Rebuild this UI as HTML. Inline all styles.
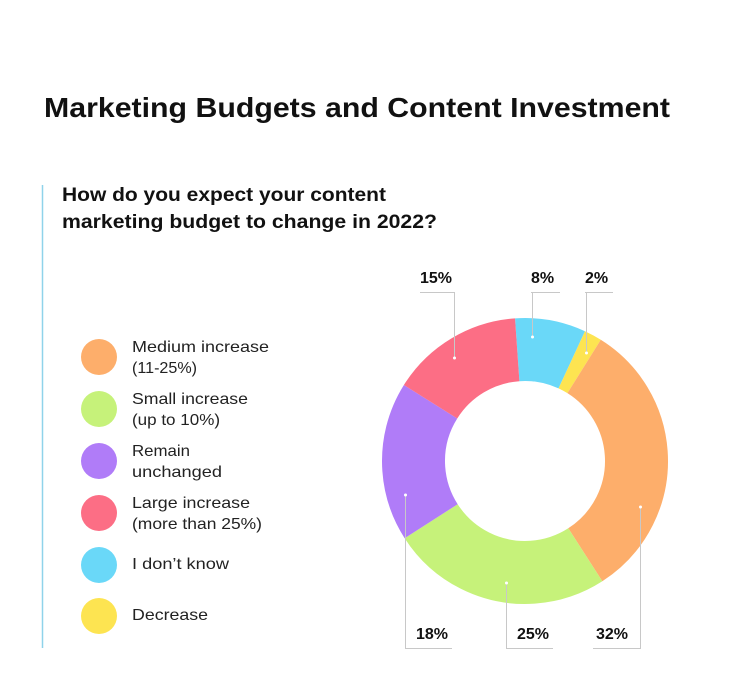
<!DOCTYPE html>
<html><head><meta charset="utf-8"><style>
body{margin:0;background:#fff;width:752px;height:691px;overflow:hidden;font-family:"Liberation Sans",sans-serif;}
</style></head><body>
<svg width="752" height="691" xmlns="http://www.w3.org/2000/svg" style="position:absolute;left:0;top:0">
<text x="44" y="117" font-size="28" font-weight="bold" fill="#111" textLength="626" lengthAdjust="spacingAndGlyphs">Marketing Budgets and Content Investment</text>
<line x1="42.5" y1="185" x2="42.5" y2="648" stroke="#8fd3ea" stroke-width="1.5"/>
<text x="62" y="201" font-size="19" font-weight="bold" fill="#111" textLength="324" lengthAdjust="spacingAndGlyphs">How do you expect your content</text>
<text x="62" y="228" font-size="19" font-weight="bold" fill="#111" textLength="375" lengthAdjust="spacingAndGlyphs">marketing budget to change in 2022?</text>
<g font-size="16" fill="#222">
<circle cx="99" cy="357" r="18" fill="#fdae6b"/>
<text x="132" y="352" textLength="137" lengthAdjust="spacingAndGlyphs">Medium increase</text><text x="132" y="373" textLength="65" lengthAdjust="spacingAndGlyphs">(11-25%)</text>
<circle cx="99" cy="409" r="18" fill="#c6f27a"/>
<text x="132" y="404" textLength="116" lengthAdjust="spacingAndGlyphs">Small increase</text><text x="132" y="425" textLength="88" lengthAdjust="spacingAndGlyphs">(up to 10%)</text>
<circle cx="99" cy="461" r="18" fill="#b07cf8"/>
<text x="132" y="456" textLength="58" lengthAdjust="spacingAndGlyphs">Remain</text><text x="132" y="477" textLength="90" lengthAdjust="spacingAndGlyphs">unchanged</text>
<circle cx="99" cy="513" r="18" fill="#fc6e85"/>
<text x="132" y="508" textLength="118" lengthAdjust="spacingAndGlyphs">Large increase</text><text x="132" y="529" textLength="130" lengthAdjust="spacingAndGlyphs">(more than 25%)</text>
<circle cx="99" cy="565" r="18" fill="#6ad8f8"/>
<text x="132" y="569" textLength="97" lengthAdjust="spacingAndGlyphs">I don’t know</text>
<circle cx="99" cy="616" r="18" fill="#fde451"/>
<text x="132" y="620" textLength="76" lengthAdjust="spacingAndGlyphs">Decrease</text>
</g>
<g transform="rotate(-94 525 461)" fill="none" stroke-width="63">
<circle cx="525" cy="461" r="111.5" stroke="#6ad8f8" stroke-dasharray="56.05 700.58" stroke-dashoffset="0"/>
<circle cx="525" cy="461" r="111.5" stroke="#fde451" stroke-dasharray="14.01 700.58" stroke-dashoffset="-56.05"/>
<circle cx="525" cy="461" r="111.5" stroke="#fdae6b" stroke-dasharray="224.19 700.58" stroke-dashoffset="-70.06"/>
<circle cx="525" cy="461" r="111.5" stroke="#c6f27a" stroke-dasharray="175.15 700.58" stroke-dashoffset="-294.25"/>
<circle cx="525" cy="461" r="111.5" stroke="#b07cf8" stroke-dasharray="126.10 700.58" stroke-dashoffset="-469.40"/>
<circle cx="525" cy="461" r="111.5" stroke="#fc6e85" stroke-dasharray="105.09 700.58" stroke-dashoffset="-595.50"/>
</g>
<g stroke="#c8c8c8" stroke-width="1" fill="none">
<polyline points="420,292.5 454.5,292.5 454.5,358"/>
<polyline points="531,292.5 560,292.5"/><line x1="532.5" y1="292" x2="532.5" y2="337"/>
<polyline points="585,292.5 613,292.5"/><line x1="586.5" y1="292" x2="586.5" y2="353"/>
<polyline points="405.5,495 405.5,648.5 452,648.5"/>
<polyline points="506.5,583 506.5,648.5 553,648.5"/>
<polyline points="593,648.5 640.5,648.5 640.5,507"/>
</g>
<g fill="#fff"><circle cx="454.5" cy="358" r="1.5"/><circle cx="532.5" cy="337" r="1.5"/><circle cx="586.5" cy="353" r="1.5"/><circle cx="405.5" cy="495" r="1.5"/><circle cx="506.5" cy="583" r="1.5"/><circle cx="640.5" cy="507" r="1.5"/></g>
<g font-size="16" font-weight="bold" fill="#111">
<text x="420" y="283">15%</text><text x="531" y="283">8%</text><text x="585" y="283">2%</text>
<text x="416" y="639">18%</text><text x="517" y="639">25%</text><text x="596" y="639">32%</text>
</g>
</svg>
</body></html>
